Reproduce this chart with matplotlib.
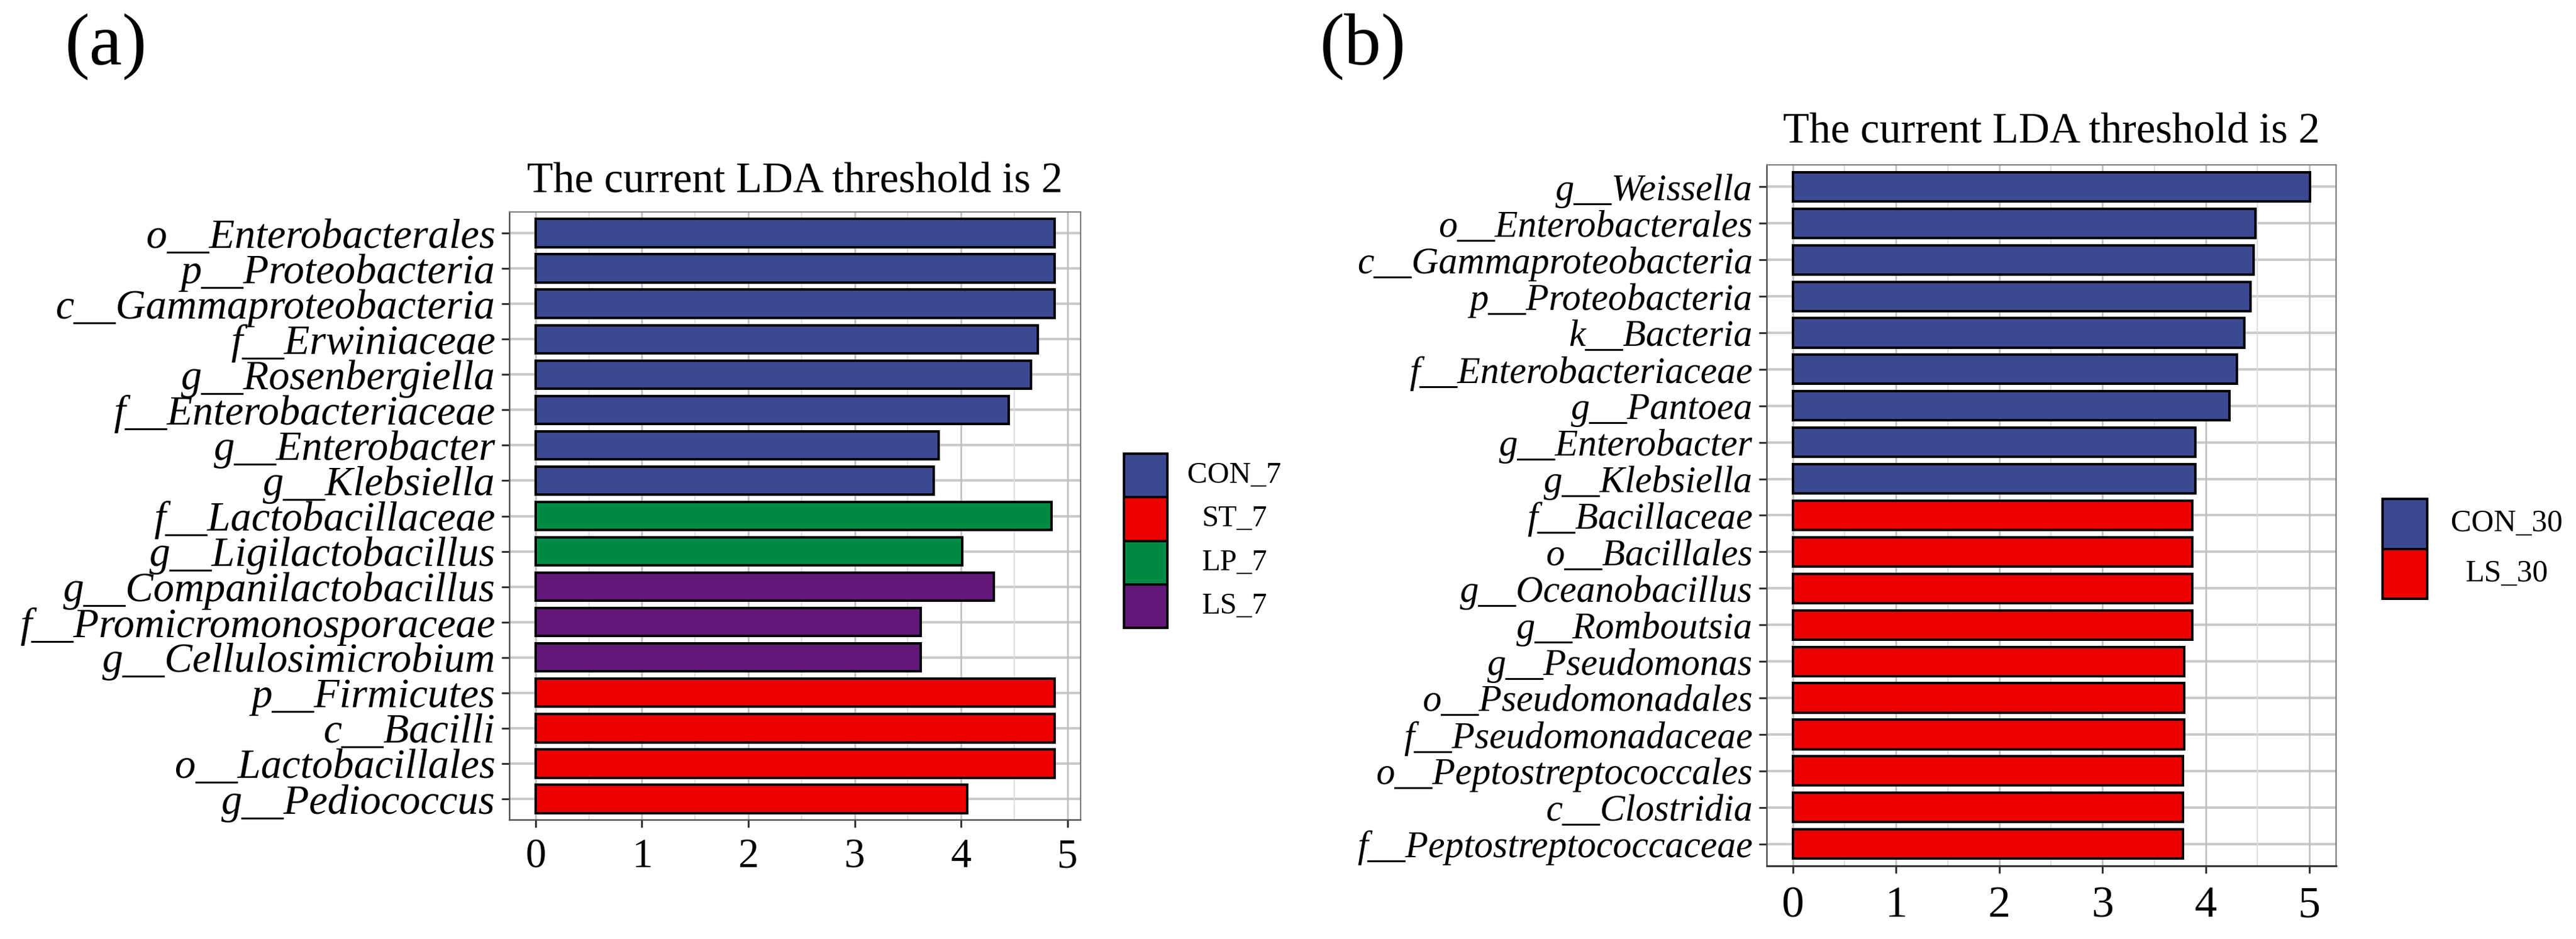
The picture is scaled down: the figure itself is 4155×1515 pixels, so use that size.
import matplotlib
matplotlib.use("Agg")
import matplotlib.pyplot as plt
from matplotlib.patches import Rectangle
from matplotlib.ticker import MultipleLocator
import numpy as np

plt.rcParams['font.family'] = ['Liberation Serif', 'DejaVu Serif']

# ---------------- data ----------------
labels_a = ["o__Enterobacterales", "p__Proteobacteria", "c__Gammaproteobacteria",
            "f__Erwiniaceae", "g__Rosenbergiella", "f__Enterobacteriaceae",
            "g__Enterobacter", "g__Klebsiella", "f__Lactobacillaceae",
            "g__Ligilactobacillus", "g__Companilactobacillus",
            "f__Promicromonosporaceae", "g__Cellulosimicrobium",
            "p__Firmicutes", "c__Bacilli", "o__Lactobacillales", "g__Pediococcus"]
values_a = [4.88, 4.88, 4.88, 4.72, 4.66, 4.45, 3.79, 3.74, 4.85, 4.01, 4.31,
            3.62, 3.62, 4.88, 4.88, 4.88, 4.06]
groups_a = ["CON_7"] * 8 + ["LP_7"] * 2 + ["LS_7"] * 3 + ["ST_7"] * 4
legend_a = ["CON_7", "ST_7", "LP_7", "LS_7"]

labels_b = ["g__Weissella", "o__Enterobacterales", "c__Gammaproteobacteria",
            "p__Proteobacteria", "k__Bacteria", "f__Enterobacteriaceae",
            "g__Pantoea", "g__Enterobacter", "g__Klebsiella", "f__Bacillaceae",
            "o__Bacillales", "g__Oceanobacillus", "g__Romboutsia",
            "g__Pseudomonas", "o__Pseudomonadales", "f__Pseudomonadaceae",
            "o__Peptostreptococcales", "c__Clostridia", "f__Peptostreptococcaceae"]
values_b = [5.01, 4.48, 4.46, 4.43, 4.37, 4.30, 4.23, 3.90, 3.90, 3.87, 3.87,
            3.87, 3.87, 3.79, 3.79, 3.79, 3.78, 3.78, 3.78]
groups_b = ["CON_30"] * 9 + ["LS_30"] * 10
legend_b = ["CON_30", "LS_30"]

title_text = "The current LDA threshold is 2"
xticks = [0, 1, 2, 3, 4, 5]

colors = {"CON_7": "#3B4992", "ST_7": "#EE0000", "LP_7": "#008B45", "LS_7": "#631879",
          "CON_30": "#3B4992", "LS_30": "#EE0000"}

# ---------------- layout ----------------
W, H = 4155, 1515
DPI = 100
fig = plt.figure(figsize=(W / DPI, H / DPI), dpi=DPI)
PX = 72.0 / DPI  # points per pixel


def fig_rect(l, r, t, b):
    return [l / W, 1 - b / H, (r - l) / W, (b - t) / H]


def panel(rect, labels, values, groups, lab_fs, tick_fs, xpad, title_pad, bottom_dark):
    ax = fig.add_axes(rect)
    n = len(labels)
    y = np.arange(n)
    vmax = max(values)
    ax.set_xlim(-0.05 * vmax, 1.05 * vmax)
    ax.set_ylim(n - 0.4, -0.6)
    for yy in y:
        ax.axhline(yy, color="#CACACA", lw=4.0 * PX, zorder=0.5)
    ax.xaxis.set_major_locator(MultipleLocator(1))
    ax.xaxis.set_minor_locator(MultipleLocator(0.5))
    ax.grid(True, axis="x", which="major", color="#BEBEBE", lw=2.6 * PX, zorder=0.4)
    ax.grid(True, axis="x", which="minor", color="#DCDCDC", lw=1.8 * PX, zorder=0.4)
    ax.set_axisbelow(True)
    ax.barh(y, values, height=0.8, color=[colors[g] for g in groups],
            edgecolor="black", linewidth=4.0 * PX, zorder=2)
    ax.set_yticks(y)
    ax.set_yticklabels(labels, fontsize=lab_fs, style="italic")
    ax.set_xticks(xticks)
    ax.set_xticklabels([str(t) for t in xticks], fontsize=tick_fs)
    ax.tick_params(axis="y", which="major", length=13 * PX, width=3 * PX,
                   color="#333333", pad=10 * PX)
    ax.tick_params(axis="x", which="major", length=12 * PX, width=3 * PX,
                   color="#333333", pad=xpad * PX)
    ax.tick_params(axis="x", which="minor", length=0)
    ax.spines["left"].set_color("#4D4D4D")
    ax.spines["left"].set_linewidth(2.4 * PX)
    ax.spines["bottom"].set_color("#333333" if bottom_dark else "#4D4D4D")
    ax.spines["bottom"].set_linewidth((3.0 if bottom_dark else 2.4) * PX)
    for s in ["top", "right"]:
        ax.spines[s].set_color("#7F7F7F")
        ax.spines[s].set_linewidth(2.2 * PX)
    t = ax.set_title(title_text, fontsize=49, pad=title_pad * PX)
    return ax, t


ax_a, t_a = panel(fig_rect(822, 1743, 342, 1323), labels_a, values_a, groups_a,
                  lab_fs=48, tick_fs=48, xpad=17, title_pad=33, bottom_dark=False)
ax_b, t_b = panel(fig_rect(2850, 3768, 266, 1397), labels_b, values_b, groups_b,
                  lab_fs=43.5, tick_fs=52, xpad=20, title_pad=37, bottom_dark=True)


def legend_box(l, r, t, b, names, text_center_px, fs):
    ax = fig.add_axes(fig_rect(l, r, t, b))
    n = len(names)
    ax.set_xlim(0, 1)
    ax.set_ylim(n, 0)
    ax.axis("off")
    kw = r - l
    for i, name in enumerate(names):
        ax.add_patch(Rectangle((0, i), 1, 1, facecolor=colors[name], edgecolor="black",
                               linewidth=4.0 * PX, clip_on=False))
        ax.text((text_center_px - l) / kw, i + 0.5, name, fontsize=fs,
                ha="center", va="center", clip_on=False)


legend_box(1813, 1883, 732, 1013, legend_a, 1991, 35)
legend_box(3843, 3915, 805, 966, legend_b, 4043, 36)

fig.text(171 / W, 1 - 75 / H, "(a)", fontsize=86, ha="center", va="center")
fig.text(2198 / W, 1 - 75 / H, "(b)", fontsize=86, ha="center", va="center")

# --- calibrate text sizes to the widths measured on the reference ---
fig.canvas.draw()
renderer = fig.canvas.get_renderer()


def fit_ylabels(ax, base_fs, target_w):
    w = max(tl.get_window_extent(renderer).width for tl in ax.get_yticklabels())
    ax.tick_params(axis="y", labelsize=base_fs * target_w / w)


def fit_title(t, base_fs, target_w):
    w = t.get_window_extent(renderer).width
    t.set_fontsize(base_fs * target_w / w)


fit_ylabels(ax_a, 48, 766)
fit_ylabels(ax_b, 43.5, 637)
fit_title(t_a, 49, 863)
fit_title(t_b, 49, 866)

fig.savefig("out.png", dpi=DPI, facecolor="white")
